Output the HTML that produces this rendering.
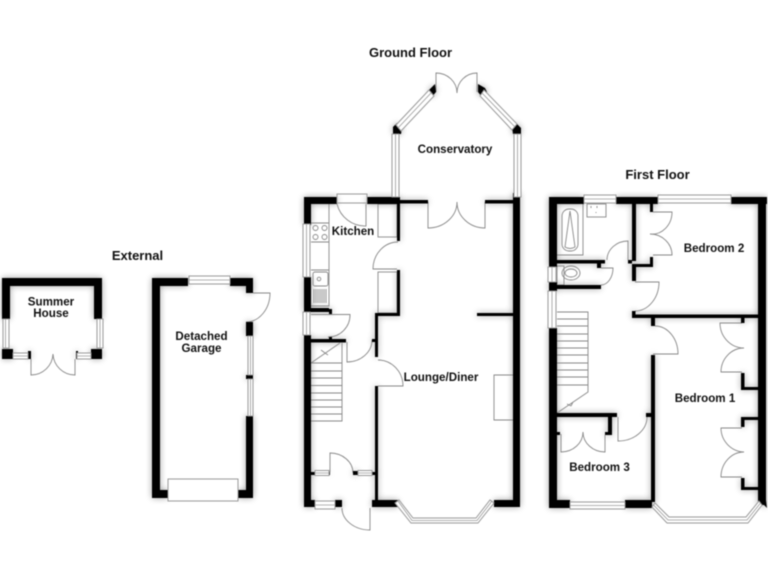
<!DOCTYPE html>
<html><head><meta charset="utf-8"><style>
html,body{margin:0;padding:0;background:#fff}
svg{display:block;filter:blur(.45px)}
text{font-family:"Liberation Sans",sans-serif;font-weight:bold;fill:#111;text-anchor:middle}
.h{font-size:13px}.r{font-size:11.6px}
.t{fill:none;stroke:#888;stroke-width:.9}
.w{fill:#fff;stroke:#999;stroke-width:1}
</style></head><body>
<svg width="768" height="576" viewBox="0 0 768 576" xmlns="http://www.w3.org/2000/svg">
<defs><filter id="b" x="-5%" y="-5%" width="110%" height="110%"><feGaussianBlur stdDeviation="3.5"/></filter>
<g id="walls" fill="#000">
<!-- summer house -->
<rect x="2" y="278" width="100" height="8"/><rect x="2" y="278" width="8" height="41"/><rect x="94" y="278" width="8" height="41"/>
<rect x="2" y="349" width="11" height="10"/><rect x="91" y="349" width="11" height="10"/><rect x="28" y="351" width="3" height="8"/><rect x="76" y="351" width="2" height="8"/>
<!-- garage -->
<rect x="152" y="278" width="36" height="8"/><rect x="230" y="278" width="23" height="8"/><rect x="152" y="278" width="8" height="220"/>
<rect x="246" y="278" width="7" height="15"/><rect x="246" y="322" width="7" height="14"/><rect x="246" y="375" width="7" height="4"/><rect x="246" y="416" width="7" height="82"/>
<rect x="152" y="490" width="16" height="8"/><rect x="238" y="490" width="15" height="8"/>
<!-- ground floor -->
<rect x="304" y="197" width="33" height="7"/><rect x="367" y="197" width="33" height="7"/><rect x="304" y="197" width="7" height="28"/><rect x="304" y="277" width="7" height="35"/><rect x="304" y="335" width="7" height="172"/>
<rect x="400" y="200" width="28" height="3.5"/><rect x="485" y="200" width="28" height="3.5"/><rect x="513" y="197" width="7" height="310"/>
<rect x="397" y="204" width="3" height="37"/><rect x="397" y="270" width="3" height="46"/><rect x="375" y="313" width="25" height="3"/><rect x="375" y="313" width="3" height="44"/><rect x="372" y="339" width="3" height="3"/><rect x="375" y="386" width="3" height="114"/>
<rect x="477" y="313" width="36" height="3"/>
<rect x="311" y="308" width="18" height="4"/><rect x="329" y="309" width="3" height="5"/><rect x="304" y="339" width="42" height="3.5"/><rect x="329" y="337" width="3" height="3"/>
<rect x="311" y="472" width="4" height="3"/><rect x="329" y="472" width="1" height="3"/><rect x="353" y="471" width="5" height="4"/><rect x="372" y="472" width="3" height="3"/>
<rect x="304" y="500" width="11" height="7"/><rect x="335" y="500" width="7" height="7"/><rect x="372" y="500" width="26" height="7"/><rect x="494" y="500" width="26" height="7"/>
<!-- conservatory nodes -->
<rect x="392" y="197" width="8" height="3"/>
<polygon points="393,127 397,123 402,128 401,134 393,134"/><polygon points="429,90 435,84 436,92 431,98"/><polygon points="478,84 485,88 487,92 482,97 478,92"/><polygon points="512,127 516,123 521,128 521,134 513,134"/>
<rect x="513" y="193" width="7" height="5"/>
<!-- first floor -->
<rect x="549" y="197" width="35" height="7"/><rect x="616" y="197" width="42" height="7"/><rect x="731" y="197" width="36" height="7"/><rect x="549" y="197" width="8" height="70"/><rect x="549" y="282" width="8" height="9"/><rect x="549" y="328" width="8" height="180"/>
<rect x="758" y="197" width="8" height="308"/>
<rect x="632" y="204" width="4" height="57"/><rect x="632" y="264" width="4" height="17"/><rect x="632" y="264" width="21" height="3"/><rect x="650" y="257" width="3" height="10"/><rect x="650" y="204" width="3" height="8"/>
<rect x="557" y="260" width="48" height="3.5"/><rect x="597" y="263" width="4" height="5"/><rect x="628" y="260" width="4" height="3.5"/><rect x="557" y="285" width="44" height="4"/>
<rect x="632" y="314.500" width="126" height="3.500"/><rect x="632" y="311" width="3.500" height="7"/><rect x="651" y="318" width="4" height="8"/><rect x="741" y="318" width="3.500" height="5"/>
<rect x="741" y="373" width="3.500" height="17"/><rect x="741" y="387" width="17" height="3"/><rect x="741" y="417" width="17" height="3"/><rect x="741" y="417" width="3.500" height="10"/><rect x="741" y="478" width="3.500" height="12"/><rect x="741" y="487" width="17" height="3"/>
<rect x="651" y="355" width="4" height="147"/><rect x="646" y="413" width="5" height="4"/>
<rect x="557" y="413" width="60" height="4"/><rect x="608" y="417" width="4" height="18"/><rect x="605" y="432" width="3" height="3"/><rect x="557" y="432" width="3" height="3"/>
<rect x="549" y="500" width="21" height="8"/><rect x="625" y="500" width="27" height="8"/>
<polygon points="758,500 766,500 767,508 763,504"/>
</g></defs>
<rect width="768" height="576" fill="#fff"/>
<use href="#walls" filter="url(#b)" opacity=".38"/>

<!-- kitchen units -->
<g class="t">
<path d="M329 204V306H311M311 223H329M311 242H329M311 270H329"/>
<rect x="378" y="204" width="19" height="33"/><rect x="378" y="272" width="19" height="41"/>
<circle cx="315.500" cy="228" r="2.500"/><circle cx="324.500" cy="228" r="2.500"/><circle cx="315.500" cy="237" r="2.500"/><circle cx="324.500" cy="237" r="2.500"/>
<rect x="313" y="272" width="15" height="14" rx="2"/><circle cx="319" cy="279" r="1.800"/>
<path d="M314 289v14M316 289v14M318 289v14M320 289v14M322 289v14M324 289v14M326 289v14"/>
<!-- lounge unit -->
<path d="M513 375H494V420H513"/>
<!-- stairs ground -->
<path d="M311 363H342V421H309V414H311M311 371H342M311 378H342M311 385.500H342M311 393H342M311 400H342M311 407H342M311 414H342M311 363L340 343M342 343V363M325 353l-4-3M325 353l3 2"/>
<!-- ground doors -->
<path d="M366 204V226A29 29 0 0 1 337 204"/>
<path d="M397 269H373A25 27 0 0 1 398 242"/>
<path d="M311 314.500H350A22 22 0 0 1 328 337"/>
<path d="M347 342V362A25 22 0 0 0 372 340"/>
<path d="M378 386H403A25 26 0 0 0 378 360"/>
<path d="M428 202V228A29 26 0 0 0 457 202A28 26 0 0 0 485 228V202"/>
<path d="M330 472V453A23 20 0 0 1 353 473"/>
<path d="M370 508V530A28 22 0 0 1 342 508"/>
<!-- conservatory doors -->
<path d="M436 92V73A21 20 0 0 1 457 93A20 20 0 0 1 477 73V92"/>
<!-- summer doors -->
<path d="M31 359V375A22 22 0 0 0 53 354A22 22 0 0 0 75 375V359"/>
<!-- garage door -->
<path d="M253 293H270A24 29 0 0 1 246 322"/>
<!-- first floor fixtures -->
<path d="M557 255H583V204"/><rect x="562" y="209" width="16" height="42" rx="7"/><path d="M570 211L565 247Q570 250 575 247Z"/>
<rect x="587" y="204" width="19" height="13"/><path d="M591 206v2M597 206v2M596 212v1"/>
<rect x="557" y="266" width="7" height="19"/><ellipse cx="571" cy="273" rx="9" ry="7"/><ellipse cx="571" cy="273" rx="6" ry="4"/>
<path d="M557 312H588V392L557 413M557 319H588M557 326H588M557 334H588M557 341H588M557 348H588M557 355H588M557 363H588M557 370H588M557 377H588M557 385H588M567 404l4 2M573 402l-2 4"/>
<!-- first floor doors -->
<path d="M628 260V241A21 19 0 0 0 607 260"/>
<path d="M601 268H613A12 17 0 0 1 601 285"/>
<path d="M635 282H659A24 29 0 0 1 635 311"/>
<path d="M653 212H672A20 22 0 0 1 650 234A22 21 0 0 1 672 255H653"/>
<path d="M655 326A23 28 0 0 1 678 354H653"/>
<path d="M742 323H720A24 25 0 0 0 744 348A23 24 0 0 0 721 372H742"/>
<path d="M742 428H721A24 24 0 0 0 744 452A23 25 0 0 0 721 477H742"/>
<path d="M618 417V441A29 24 0 0 0 647 417"/>
<path d="M561 434V452A22 20 0 0 0 583 432A22 20 0 0 0 605 452V435"/>
</g>
<use href="#walls"/>

<!-- windows -->
<g class="w">
<rect x="3" y="319" width="6" height="29"/><rect x="97" y="319" width="6" height="29"/>
<rect x="13" y="353" width="15" height="6"/><rect x="77" y="353" width="14" height="6"/>
<rect x="189" y="276" width="41" height="8"/><rect x="248" y="336" width="5" height="39"/><rect x="248" y="379" width="5" height="37"/>
<rect x="168" y="479" width="70" height="22"/>
<rect x="303" y="224" width="7" height="53"/><rect x="303" y="312" width="7" height="23"/>
<rect x="337" y="194" width="30" height="9" fill="none"/>
<rect x="315" y="501" width="20" height="8"/>
<rect x="315" y="470.500" width="14" height="5"/><rect x="358" y="470.500" width="14" height="5"/>
<rect x="392" y="134" width="7" height="63"/><rect x="514" y="134" width="7" height="63"/>
<rect x="584" y="195" width="32" height="8"/><rect x="658" y="195" width="73" height="8"/>
<rect x="548" y="267" width="8" height="15"/><rect x="548" y="291" width="8" height="37"/>
<rect x="570" y="502" width="55" height="7"/>
</g>
<g fill="none" stroke="#999" stroke-width=".8">
<path d="M5.500 319V348M100 319V348M13 356H28M77 356H91M189 280H230M250.500 336V375M250.500 379V416M306.500 224V277M306.500 312V335M315 505H335M315 473H329M358 473H372M395.500 134V197M517.500 134V197M584 199H616M658 199H731M552 267V282M552 291V328M570 505.500H625"/>
</g>
<!-- angled windows -->
<g fill="#fff" stroke="#999" stroke-width="1">
<polygon points="396,125 429,90 434,96 401,131"/><polygon points="484,90 517,124 512,130 480,96"/>
<polygon points="395,503 411,523 478,523 494,503 490,500 476,518 413,518 399,500"/>
<polygon points="652,507 667,523 748,523 762,505 759,501 746,517 669,517 655,503"/>
</g>
<path d="M398 501L412 520.500H477L492 501M653.500 505L668 520H747L760.500 503M398 128L431 93M482 93L515 127" fill="none" stroke="#999" stroke-width=".8"/>

<!-- labels -->
<text class="h" x="410.500" y="57">Ground Floor</text>
<text class="h" x="657.500" y="179">First Floor</text>
<text class="h" x="137.500" y="260">External</text>
<g class="r">
<text x="51" y="305.500">Summer</text><text x="51" y="317">House</text>
<text x="201.500" y="340">Detached</text><text x="201.500" y="352">Garage</text>
<text x="455" y="153">Conservatory</text>
<text x="353" y="235">Kitchen</text>
<text x="441" y="381">Lounge/Diner</text>
<text x="714" y="252">Bedroom 2</text>
<text x="705" y="402">Bedroom 1</text>
<text x="599.500" y="471">Bedroom 3</text>
</g>
</svg>
</body></html>
